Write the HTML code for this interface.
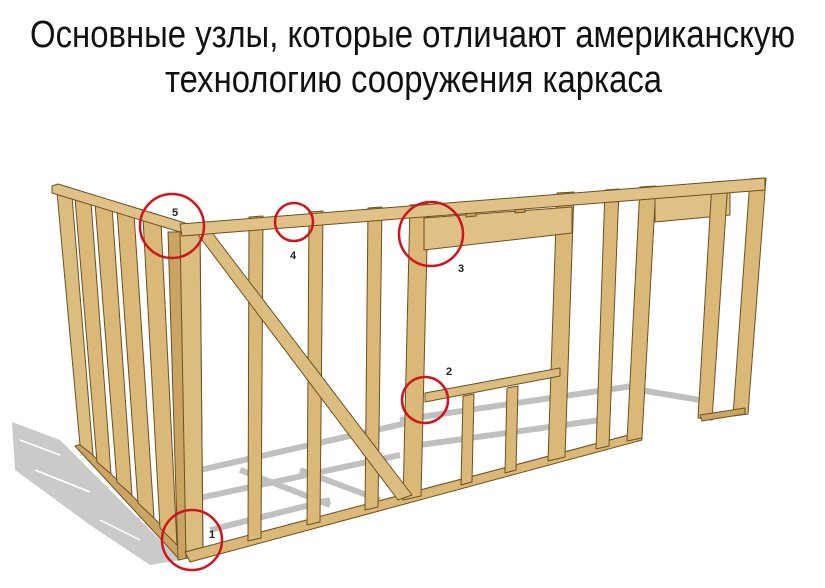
<!DOCTYPE html>
<html><head><meta charset="utf-8"><style>
html,body{margin:0;padding:0;background:#fff;width:825px;height:588px;overflow:hidden}
svg{display:block}
</style></head><body>
<svg width="825" height="588" viewBox="0 0 825 588" xmlns="http://www.w3.org/2000/svg">
<g font-family="'Liberation Sans Narrow','Liberation Sans',sans-serif" font-size="38" fill="#111">
<text x="30" y="47" textLength="765" lengthAdjust="spacingAndGlyphs">Основные узлы, которые отличают американскую</text>
<text x="165" y="92" textLength="497" lengthAdjust="spacingAndGlyphs">технологию сооружения каркаса</text>
</g>
<!-- shadows -->
<g fill="#cacaca">
<polygon points="12,422 60,440 180,560 150,565 90,525 15,470"/>
</g>
<g stroke="#c0c0c0" stroke-width="6" fill="none">
<line x1="200" y1="470" x2="420" y2="420"/>
<line x1="190" y1="500" x2="400" y2="455"/>
<line x1="210" y1="530" x2="330" y2="500"/>
<line x1="400" y1="420" x2="640" y2="385"/>
<line x1="420" y1="445" x2="600" y2="420"/>
<line x1="640" y1="390" x2="700" y2="400"/>
<line x1="240" y1="470" x2="330" y2="505"/>
<line x1="300" y1="470" x2="380" y2="500"/>
</g>
<g stroke="#fff" stroke-width="1.5">
<line x1="20" y1="440" x2="60" y2="455"/><line x1="35" y1="470" x2="90" y2="492"/><line x1="100" y1="520" x2="140" y2="540"/>
</g>
<g stroke="#6e5020" stroke-width="1" stroke-linejoin="round">
<!-- left wall -->
<polygon points="75,446 82,444 185,550 180,560" fill="#c9a463"/>
<polygon points="57,192 72,196 93,455 80,445" fill="#dcbd80"/>
<polygon points="75,198 91,202 111,474 97,462" fill="#d9b878"/>
<polygon points="95,203 112,207 132,495 117,482" fill="#d9b878"/>
<polygon points="117,210 134,214 154,518 138,503" fill="#d9b878"/>
<polygon points="143,218 161,223 177,545 160,528" fill="#d9b878"/>
<polygon points="52,186 58,184 185,223 180,232 52,193" fill="#e0c288"/>
<!-- corner post -->
<polygon points="168,232 200,232 203,555 178,560" fill="#c9a463"/>
<polygon points="180,232 200,232 203,555 186,557" fill="#dcbd80"/>
<!-- main bottom plate -->
<polygon points="185,552 640,432 642,440 190,562" fill="#d9b878"/>
<!-- main studs -->
<polygon points="249,217 263,216 261,538 248,541" fill="#d9b878"/>
<polygon points="309,212 323,211 320,522 307,525" fill="#d9b878"/>
<polygon points="368,208 382,207 378,507 365,510" fill="#d9b878"/>
<polygon points="410,205 428,204 421,496 403,500" fill="#d9b878"/>
<polygon points="557,193 574,192 565,457 548,461" fill="#d9b878"/>
<polygon points="605,190 619,189 609,446 596,449" fill="#d9b878"/>
<polygon points="640,187 656,186 642,438 627,441" fill="#d9b878"/>
<!-- brace -->
<polygon points="196,232 210,230 412,495 398,500" fill="#dcbd80"/>
<!-- window header -->
<polygon points="424,218 572,207 572,233 424,250" fill="#dfc086"/>
<polygon points="466,208 476,207 476,216 466,217" fill="#c9a463"/>
<polygon points="515,204 525,203 525,212 515,213" fill="#c9a463"/>
<!-- sill & cripples -->
<polygon points="425,393 560,368 560,376 425,402" fill="#dcbd80"/>
<polygon points="463,396 474,394 472,482 461,485" fill="#d9b878"/>
<polygon points="507,388 518,386 516,470 505,473" fill="#d9b878"/>
<!-- door -->
<polygon points="655,198 730,192 730,215 655,222" fill="#dfc086"/>
<polygon points="685,188 695,187 695,195 685,196" fill="#c9a463"/>
<polygon points="712,182 728,181 712,420 698,418" fill="#d9b878"/>
<polygon points="750,179 766,178 748,414 733,416" fill="#d9b878"/>
<polygon points="700,415 745,408 745,414 702,421" fill="#c9a463"/>
<!-- main top plate -->
<polygon points="180,224 765,178 765,190 182,236" fill="#e0c288"/>
</g>
<!-- circles -->
<g fill="none" stroke="#d0141c" stroke-width="2.5">
<circle cx="172" cy="226" r="32"/>
<circle cx="294" cy="222" r="19"/>
<circle cx="431" cy="234" r="32"/>
<circle cx="425" cy="400" r="23"/>
<circle cx="192" cy="540" r="30"/>
</g>
<g font-family="'Liberation Sans',sans-serif" font-size="11" font-weight="bold" fill="#222">
<text x="172" y="216">5</text><text x="290" y="259">4</text><text x="458" y="272">3</text><text x="446" y="375">2</text><text x="209" y="538">1</text>
</g>
</svg>
</body></html>
